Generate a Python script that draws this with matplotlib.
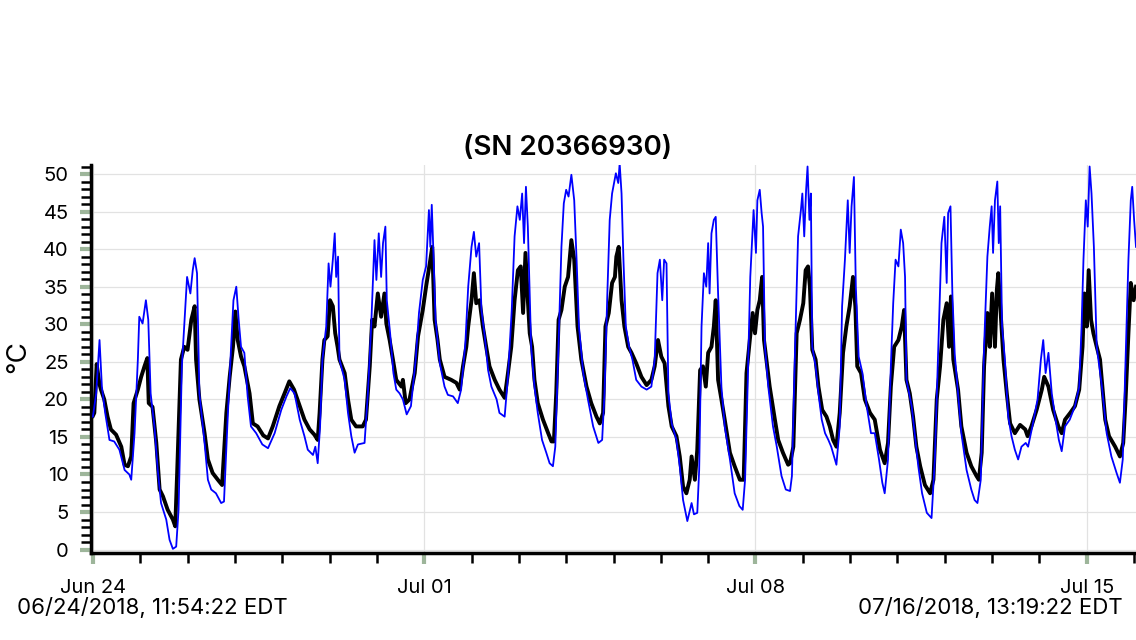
import matplotlib
matplotlib.use('Agg')
import matplotlib.pyplot as plt
from matplotlib.ticker import MultipleLocator, FixedLocator

plt.rcParams['font.family'] = ['Inter', 'DejaVu Sans']

# days since the first logged reading, temperatures in deg C
black_day = [0.00, 0.03, 0.08, 0.14, 0.17, 0.24, 0.31, 0.38, 0.49, 0.60, 0.67, 0.74, 0.81, 0.86, 0.95,
             1.02, 1.09, 1.15, 1.18, 1.26, 1.34, 1.41, 1.48, 1.58, 1.69, 1.74, 1.78, 1.86, 1.93,
             2.00, 2.08, 2.15, 2.18, 2.25, 2.36, 2.43, 2.53, 2.64, 2.73, 2.82, 2.89, 2.96,
             3.01, 3.06, 3.13, 3.20, 3.31, 3.38, 3.48, 3.60, 3.70, 3.80, 3.94,
             4.05, 4.15, 4.25, 4.37, 4.47, 4.58, 4.68, 4.75, 4.79, 4.85, 4.89, 4.96,
             5.01, 5.07, 5.12, 5.17, 5.21, 5.32, 5.39, 5.46, 5.56, 5.70, 5.77, 5.85, 5.90, 5.95,
             6.02, 6.09, 6.16, 6.20, 6.27, 6.34, 6.41, 6.52, 6.55, 6.61, 6.69, 6.80, 6.87, 6.97,
             7.04, 7.13, 7.17, 7.22, 7.28, 7.33, 7.43, 7.57, 7.68, 7.75, 7.82, 7.89, 7.93,
             8.00, 8.05, 8.10, 8.17, 8.24, 8.31, 8.38, 8.49, 8.59, 8.70, 8.77, 8.84, 8.91, 8.98,
             9.04, 9.09, 9.14, 9.19, 9.23, 9.28, 9.33, 9.40, 9.51, 9.62, 9.69, 9.74, 9.79, 9.84, 9.90, 9.97,
             10.04, 10.11, 10.17, 10.24, 10.32, 10.43, 10.53, 10.64, 10.71, 10.78, 10.83, 10.90, 10.97,
             11.03, 11.06, 11.11, 11.17, 11.23, 11.31, 11.38, 11.48, 11.59, 11.70, 11.80, 11.87, 11.94,
             12.01, 12.08, 12.16, 12.23, 12.33, 12.40, 12.47, 12.54, 12.61, 12.65, 12.72, 12.77, 12.83, 12.89, 12.95,
             13.00, 13.07, 13.12, 13.16, 13.21, 13.28, 13.35, 13.46, 13.56, 13.67, 13.75, 13.81, 13.88, 13.94, 13.99,
             14.04, 14.09, 14.14, 14.18, 14.23, 14.30, 14.41, 14.48, 14.58, 14.69, 14.73, 14.80, 14.87, 14.94,
             15.01, 15.06, 15.11, 15.15, 15.20, 15.27, 15.33, 15.41, 15.50, 15.57, 15.64, 15.71, 15.78, 15.85, 15.92, 15.99,
             16.06, 16.11, 16.15, 16.23, 16.31, 16.42, 16.52, 16.63, 16.73, 16.80, 16.86, 16.93,
             17.02, 17.09, 17.14, 17.19, 17.26, 17.33, 17.40, 17.48, 17.58, 17.69, 17.76, 17.83, 17.90, 17.97,
             18.04, 18.09, 18.13, 18.18, 18.28, 18.35, 18.46, 18.56, 18.67, 18.72, 18.78, 18.83, 18.90, 18.95,
             19.00, 19.06, 19.10, 19.13, 19.19, 19.24, 19.31, 19.38, 19.48, 19.59, 19.70, 19.75, 19.83, 19.94,
             20.05, 20.10, 20.19, 20.29, 20.40, 20.47, 20.54, 20.65, 20.75, 20.84, 20.91, 20.95,
             21.00, 21.04, 21.09, 21.14, 21.21, 21.28, 21.39, 21.47, 21.60, 21.70, 21.77, 21.82, 21.88, 21.93, 21.99, 22.04]
black_temp = [17.8, 18.2, 24.7, 22.0, 21.3, 20.0, 17.7, 16.0, 15.3, 13.7, 11.3, 11.1, 12.4, 19.5, 21.3,
              23.0, 24.4, 25.5, 19.5, 19.0, 14.2, 8.0, 7.1, 5.3, 4.0, 3.1, 10.2, 25.3, 27.0,
              26.6, 30.6, 32.4, 25.3, 20.0, 15.5, 12.0, 10.2, 9.3, 8.6, 18.2, 23.0, 27.0,
              31.7, 27.9, 25.7, 24.4, 20.8, 16.8, 16.4, 15.2, 14.8, 16.4, 19.1,
              20.8, 22.4, 21.3, 19.1, 17.3, 16.0, 15.3, 14.6, 18.2, 25.3, 27.9, 28.4,
              33.2, 32.4, 28.8, 27.0, 25.3, 23.5, 20.0, 17.3, 16.4, 16.4, 17.3, 24.4, 30.6, 29.7,
              34.1, 31.0, 34.1, 30.1, 27.9, 25.3, 22.6, 21.7, 22.6, 19.5, 20.0, 23.5, 28.4, 31.9,
              35.0, 38.6, 40.3, 30.6, 28.0, 25.3, 23.0, 22.6, 22.2, 21.3, 24.4, 27.0, 29.7,
              33.2, 36.8, 32.8, 33.2, 29.7, 27.0, 24.4, 22.6, 21.3, 20.2, 23.5, 27.0, 33.2, 37.2,
              37.7, 31.5, 39.5, 33.2, 28.8, 27.0, 22.6, 19.5, 17.3, 15.5, 14.4, 14.4, 20.8, 30.6, 31.9, 35.0,
              36.3, 41.2, 38.6, 29.7, 25.3, 21.7, 19.5, 17.7, 16.8, 18.2, 29.7, 31.5, 35.5,
              36.3, 39.0, 40.3, 33.2, 29.7, 27.0, 26.2, 24.8, 23.0, 21.9, 22.6, 24.4, 27.9,
              25.7, 24.8, 19.1, 16.4, 15.1, 12.4, 8.4, 7.5, 9.3, 12.4, 9.3, 13.3, 23.9, 24.4, 21.7,
              26.2, 27.0, 29.7, 33.2, 22.6, 20.0, 17.3, 12.9, 11.1, 9.3, 9.3, 23.5, 27.9, 31.5, 28.8,
              31.9, 33.2, 36.3, 27.9, 25.3, 21.7, 17.3, 14.6, 12.9, 11.3, 11.5, 13.7, 28.8, 30.6,
              32.8, 37.2, 37.7, 35.0, 26.6, 25.3, 21.7, 18.6, 17.7, 16.4, 14.6, 13.7, 18.2, 26.2, 29.7, 32.4,
              36.3, 32.4, 24.4, 23.5, 20.0, 18.2, 17.3, 13.3, 11.5, 14.2, 21.7, 27.0,
              27.9, 29.7, 31.9, 22.6, 20.8, 17.7, 13.7, 11.1, 8.6, 7.5, 9.3, 20.0, 24.4, 30.6,
              32.8, 27.0, 33.7, 25.3, 21.3, 16.4, 12.9, 11.1, 9.8, 9.3, 12.9, 24.4, 31.5, 27.0,
              34.1, 27.0, 34.6, 36.8, 30.6, 25.3, 20.8, 16.8, 15.5, 16.6, 16.0, 15.1, 16.4, 18.6,
              21.3, 23.0, 21.7, 18.6, 16.4, 15.5, 17.3, 18.2, 19.1, 21.3, 27.0, 34.1,
              29.7, 37.2, 30.6, 28.8, 27.0, 25.3, 17.3, 15.1, 13.7, 12.4, 14.2, 20.0, 28.8, 35.5, 33.2, 35.0]

blue_day = [0.00, 0.07, 0.14, 0.19, 0.26, 0.35, 0.45, 0.56, 0.67, 0.77, 0.81, 0.88, 0.95, 0.98,
            1.05, 1.12, 1.17, 1.22, 1.30, 1.37, 1.44, 1.55, 1.62, 1.69, 1.76, 1.81, 1.88, 1.93, 1.99,
            2.06, 2.11, 2.15, 2.20, 2.25, 2.36, 2.43, 2.50, 2.60, 2.71, 2.77, 2.84, 2.92, 2.97,
            3.03, 3.08, 3.13, 3.20, 3.27, 3.34, 3.45, 3.58, 3.70, 3.84, 3.98,
            4.09, 4.17, 4.26, 4.37, 4.47, 4.54, 4.65, 4.70, 4.75, 4.80, 4.85, 4.93, 4.98,
            5.02, 5.07, 5.11, 5.14, 5.18, 5.21, 5.32, 5.39, 5.46, 5.53, 5.60, 5.74, 5.81, 5.88, 5.95, 5.99,
            6.04, 6.09, 6.13, 6.18, 6.21, 6.28, 6.35, 6.41, 6.48, 6.55, 6.63, 6.72, 6.82, 6.89, 6.97,
            7.04, 7.10, 7.13, 7.16, 7.20, 7.24, 7.33, 7.43, 7.50, 7.61, 7.71, 7.78, 7.87, 7.93,
            8.00, 8.05, 8.10, 8.16, 8.21, 8.28, 8.35, 8.42, 8.53, 8.59, 8.70, 8.77, 8.85, 8.91, 8.97,
            9.02, 9.07, 9.11, 9.15, 9.19, 9.26, 9.33, 9.40, 9.49, 9.58, 9.65, 9.72, 9.77, 9.84, 9.90, 9.95,
            10.00, 10.05, 10.11, 10.17, 10.22, 10.27, 10.36, 10.46, 10.57, 10.68, 10.76, 10.81, 10.87, 10.92, 10.97,
            11.05, 11.10, 11.13, 11.17, 11.21, 11.26, 11.33, 11.40, 11.48, 11.59, 11.70, 11.80, 11.87, 11.93, 11.98,
            12.03, 12.07, 12.12, 12.16, 12.23, 12.33, 12.40, 12.47, 12.56, 12.65, 12.70, 12.77, 12.81, 12.86, 12.91, 12.96,
            13.00, 13.03, 13.07, 13.12, 13.16, 13.21, 13.28, 13.35, 13.46, 13.56, 13.66, 13.73, 13.78, 13.83, 13.89, 13.96,
            14.01, 14.04, 14.09, 14.13, 14.16, 14.20, 14.27, 14.37, 14.45, 14.55, 14.64, 14.73, 14.77, 14.83, 14.90, 14.96, 14.99,
            15.03, 15.07, 15.10, 15.14, 15.17, 15.20, 15.27, 15.33, 15.40, 15.47, 15.54, 15.60, 15.71, 15.78, 15.83, 15.89, 15.95, 15.99,
            16.03, 16.08, 16.12, 16.18, 16.26, 16.35, 16.44, 16.52, 16.61, 16.68, 16.73, 16.80, 16.86, 16.91, 16.96,
            17.02, 17.07, 17.12, 17.16, 17.19, 17.30, 17.37, 17.44, 17.52, 17.62, 17.72, 17.79, 17.85, 17.93, 17.99,
            18.04, 18.07, 18.12, 18.16, 18.21, 18.28, 18.35, 18.46, 18.56, 18.63, 18.69, 18.76, 18.83, 18.90, 18.95, 18.99,
            19.02, 19.06, 19.11, 19.14, 19.17, 19.21, 19.27, 19.34, 19.41, 19.48, 19.55, 19.62, 19.71, 19.76, 19.85, 19.96,
            20.03, 20.08, 20.13, 20.19, 20.26, 20.33, 20.41, 20.47, 20.54, 20.64, 20.75, 20.84, 20.89, 20.93, 20.98,
            21.02, 21.06, 21.10, 21.15, 21.21, 21.32, 21.42, 21.52, 21.63, 21.70, 21.76, 21.82, 21.88, 21.93, 21.96, 22.00, 22.04]
blue_temp = [17.7, 20.8, 27.9, 21.7, 18.2, 14.6, 14.4, 13.3, 10.6, 10.0, 9.3, 15.5, 25.3, 31.0,
             30.1, 33.2, 30.6, 20.8, 16.4, 10.6, 6.2, 4.0, 1.3, 0.1, 0.4, 5.3, 24.4, 29.7, 36.3,
             34.1, 37.2, 38.8, 36.8, 20.8, 14.2, 9.3, 8.0, 7.5, 6.2, 6.4, 16.4, 27.0, 33.2,
             35.0, 30.6, 27.0, 26.2, 20.4, 16.4, 15.5, 14.0, 13.5, 15.5, 18.6,
             20.4, 21.5, 20.8, 17.3, 15.1, 13.3, 12.6, 13.7, 11.5, 16.4, 25.3, 29.7, 38.1,
             35.0, 38.6, 42.1, 36.3, 39.0, 25.3, 22.6, 18.2, 15.1, 12.9, 14.0, 14.2, 20.8, 29.7, 41.2, 35.9,
             42.1, 36.3, 40.8, 43.0, 33.2, 28.8, 23.5, 21.3, 20.8, 20.0, 18.0, 19.1, 25.3, 31.5, 35.9,
             37.7, 45.2, 40.3, 45.9, 38.6, 30.6, 24.8, 21.7, 20.6, 20.4, 19.5, 21.3, 27.5, 35.0,
             40.3, 42.3, 39.0, 40.8, 31.9, 28.4, 23.9, 21.7, 20.0, 18.2, 17.7, 23.0, 31.9, 41.7, 45.7,
             43.9, 47.4, 40.8, 48.3, 43.0, 27.0, 21.7, 18.2, 14.6, 12.9, 11.5, 11.1, 13.7, 27.5, 40.3, 46.1,
             47.9, 47.0, 49.9, 46.5, 38.6, 29.7, 23.5, 20.0, 16.4, 14.2, 14.6, 20.8, 34.1, 43.9, 47.4,
             50.1, 48.8, 51.4, 47.4, 38.6, 29.7, 27.0, 25.3, 22.6, 21.7, 21.3, 21.7, 25.3, 36.8, 38.6,
             33.2, 38.6, 38.1, 20.8, 16.8, 14.6, 11.1, 6.6, 3.8, 6.2, 4.7, 4.9, 10.6, 29.7, 36.8, 35.0,
             40.8, 34.1, 42.1, 43.9, 44.3, 34.1, 21.7, 16.4, 12.0, 7.5, 5.8, 5.3, 9.3, 20.8, 36.3, 45.2,
             39.5, 46.5, 47.9, 44.8, 43.0, 27.0, 21.7, 16.4, 13.7, 9.8, 8.0, 7.8, 9.8, 25.3, 41.7, 45.2, 47.4,
             41.7, 47.9, 51.0, 43.9, 47.4, 27.0, 24.4, 20.8, 17.3, 15.5, 14.6, 13.7, 11.3, 16.4, 32.4, 38.6, 46.5, 39.5,
             45.7, 49.6, 35.0, 25.7, 23.5, 19.1, 15.5, 15.5, 12.0, 8.9, 7.5, 12.0, 24.4, 32.8, 38.6,
             37.7, 42.6, 40.8, 36.3, 22.6, 19.1, 15.1, 11.1, 7.5, 4.9, 4.2, 12.0, 24.4, 40.8, 44.3,
             35.5, 44.8, 45.7, 34.1, 26.0, 20.8, 15.5, 10.6, 8.0, 6.6, 6.2, 9.3, 27.0, 39.0, 43.0, 45.7,
             39.5, 46.5, 49.0, 40.8, 45.7, 29.7, 25.3, 17.7, 15.1, 13.3, 12.0, 13.7, 14.2, 13.7, 16.4, 20.0,
             25.3, 27.9, 23.5, 26.2, 20.8, 17.7, 14.6, 13.1, 16.4, 17.3, 19.1, 21.7, 29.7, 38.6, 46.5,
             43.0, 51.0, 47.4, 40.3, 27.0, 21.7, 15.5, 12.4, 10.2, 8.9, 12.0, 25.3, 38.6, 46.5, 48.3, 43.9, 40.3]

week_ticks = [0, 7, 14, 21]
week_labels = ['Jun 24', 'Jul 01', 'Jul 08', 'Jul 15']
start_label = '06/24/2018, 11:54:22 EDT'
end_label = '07/16/2018, 13:19:22 EDT'

fig = plt.figure(figsize=(11.36, 6.4), dpi=100)
ax = fig.add_axes([91/1136, 1 - 553/640, 1 - 91/1136, (553 - 165)/640])

ax.plot(black_day, black_temp, color='black', linewidth=2.8, zorder=3)
ax.plot(blue_day, blue_temp, color='#0000ff', linewidth=1.3, zorder=4)

ax.set_xlim(-0.04, 22.04)
ax.set_ylim(-0.45, 51.2)

ax.xaxis.set_major_locator(FixedLocator(week_ticks))
ax.xaxis.set_minor_locator(MultipleLocator(1))
ax.set_xticklabels(week_labels)
ax.yaxis.set_major_locator(MultipleLocator(5))
ax.yaxis.set_minor_locator(MultipleLocator(1))

ax.grid(which='major', color='#e2e2e2', linewidth=0.9, zorder=0)
ax.set_axisbelow(True)

for side in ['top', 'right']:
    ax.spines[side].set_visible(False)
for side in ['left', 'bottom']:
    ax.spines[side].set_linewidth(2.5)

ax.tick_params(which='major', length=8, width=3, color='#9db59a', labelsize=14.5, pad=8)
ax.tick_params(which='minor', length=7, width=1.8, color='black')
ax.tick_params(axis='x', which='major', pad=11)

fig.text(0.5, 1 - 148/640, '(SN 20366930)', ha='center', va='center', fontsize=20, fontweight='semibold')
fig.text(18/1136, 1 - 357/640, '°C', rotation=90, ha='center', va='center', fontsize=20)
fig.text(17/1136, 1 - 608/640, start_label, ha='left', va='center', fontsize=16)
fig.text(1123/1136, 1 - 608/640, end_label, ha='right', va='center', fontsize=16)

fig.savefig('out.png', dpi=100)
